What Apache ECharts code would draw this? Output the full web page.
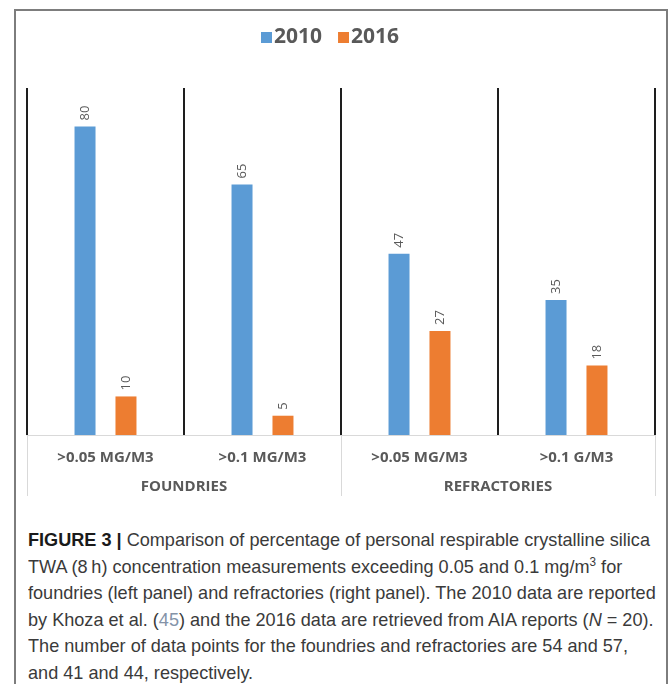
<!DOCTYPE html>
<html>
<head>
<meta charset="utf-8">
<script src="https://cdn.jsdelivr.net/npm/echarts@6/dist/echarts.min.js"></script>
<style>
  body { margin: 0; background: #fff; }
  #frame { position: absolute; left: 14px; top: 9px; width: 650px; height: 700px; border: 2px solid #7d7d7d; border-bottom: none; }
  #chart { position: absolute; left: 0; top: 0; width: 669px; height: 510px; }
  #caption { position: absolute; left: 28px; top: 527px; font-family: 'Liberation Sans', sans-serif; font-size: 18.5px; line-height: 26.5px; color: #3a3a3a; white-space: nowrap; transform-origin: 0 0; }
  #caption b { color: #1a1a1a; }
  #caption .ref { color: #8493a8; }
  #caption sup { font-size: 12px; line-height: 0; }
</style>
</head>
<body>
<div id="frame"></div>
<div id="chart"></div>
<div id="caption">
  <span id="line1"><b>FIGURE 3 |</b> Comparison of percentage of personal respirable crystalline silica</span><br>
  TWA (8&#8201;h) concentration measurements exceeding 0.05 and 0.1 mg/m<sup>3</sup> for<br>
  foundries (left panel) and refractories (right panel). The 2010 data are reported<br>
  by Khoza et al. (<span class="ref">45</span>) and the 2016 data are retrieved from AIA reports (<i>N</i> = 20).<br>
  The number of data points for the foundries and refractories are 54 and 57,<br>
  and 41 and 44, respectively.
</div>
<script>
var categories = ['>0.05 MG/M3', '>0.1 MG/M3', '>0.05 MG/M3', '>0.1 G/M3']
var groups = ['FOUNDRIES', 'REFRACTORIES']
var values2010 = [80, 65, 47, 35]
var values2016 = [10, 5, 27, 18]

// squeeze caption to the narrow journal font width
var line1 = document.getElementById('line1')
var w = line1.getBoundingClientRect().width
document.getElementById('caption').style.transform = 'scaleX(' + (622 / w) + ')'

var myChart = echarts.init(document.getElementById('chart'))
var font = 'Open Sans'
var barLabel = {
  show: true,
  position: 'top',
  rotate: 90,
  align: 'left',
  verticalAlign: 'middle',
  distance: 6,
  color: '#595959',
  fontSize: 13,
  fontFamily: font
}
var option = {
  animation: false,
  color: ['#5b9bd5', '#ed7d31'],
  legend: {
    top: 22,
    left: 256,
    itemWidth: 11,
    itemHeight: 11,
    itemGap: 16,
    icon: 'rect',
    textStyle: { color: '#595959', fontSize: 21, fontWeight: 'bold', fontFamily: font, padding: [0, 0, 0, -3] },
    data: ['2010', '2016']
  },
  grid: { top: 88, left: 27, right: 14, bottom: 75 },
  xAxis: [
    {
      type: 'category',
      position: 'bottom',
      data: categories,
      axisLine: { lineStyle: { color: '#d9d9d9', width: 1 } },
      axisTick: { show: false },
      axisLabel: { margin: 15, color: '#595959', fontSize: 15, fontWeight: 'bold', fontFamily: font },
      splitLine: { show: true, lineStyle: { color: '#1e1e1e', width: 2 } }
    },
    {
      type: 'category',
      position: 'bottom',
      data: groups,
      axisLine: { show: false },
      axisTick: { show: true, length: 61, lineStyle: { color: '#d9d9d9', width: 1 } },
      axisLabel: { margin: 44, color: '#595959', fontSize: 15, fontWeight: 'bold', fontFamily: font },
      splitLine: { show: false }
    }
  ],
  yAxis: { type: 'value', min: 0, max: 90, show: false, splitLine: { show: false } },
  series: [
    { name: '2010', type: 'bar', xAxisIndex: 0, barWidth: 21, barGap: '95%', data: values2010, label: barLabel },
    { name: '2016', type: 'bar', xAxisIndex: 0, barWidth: 21, barGap: '95%', data: values2016, label: barLabel }
  ]
}
myChart.setOption(option)
</script>
</body>
</html>
